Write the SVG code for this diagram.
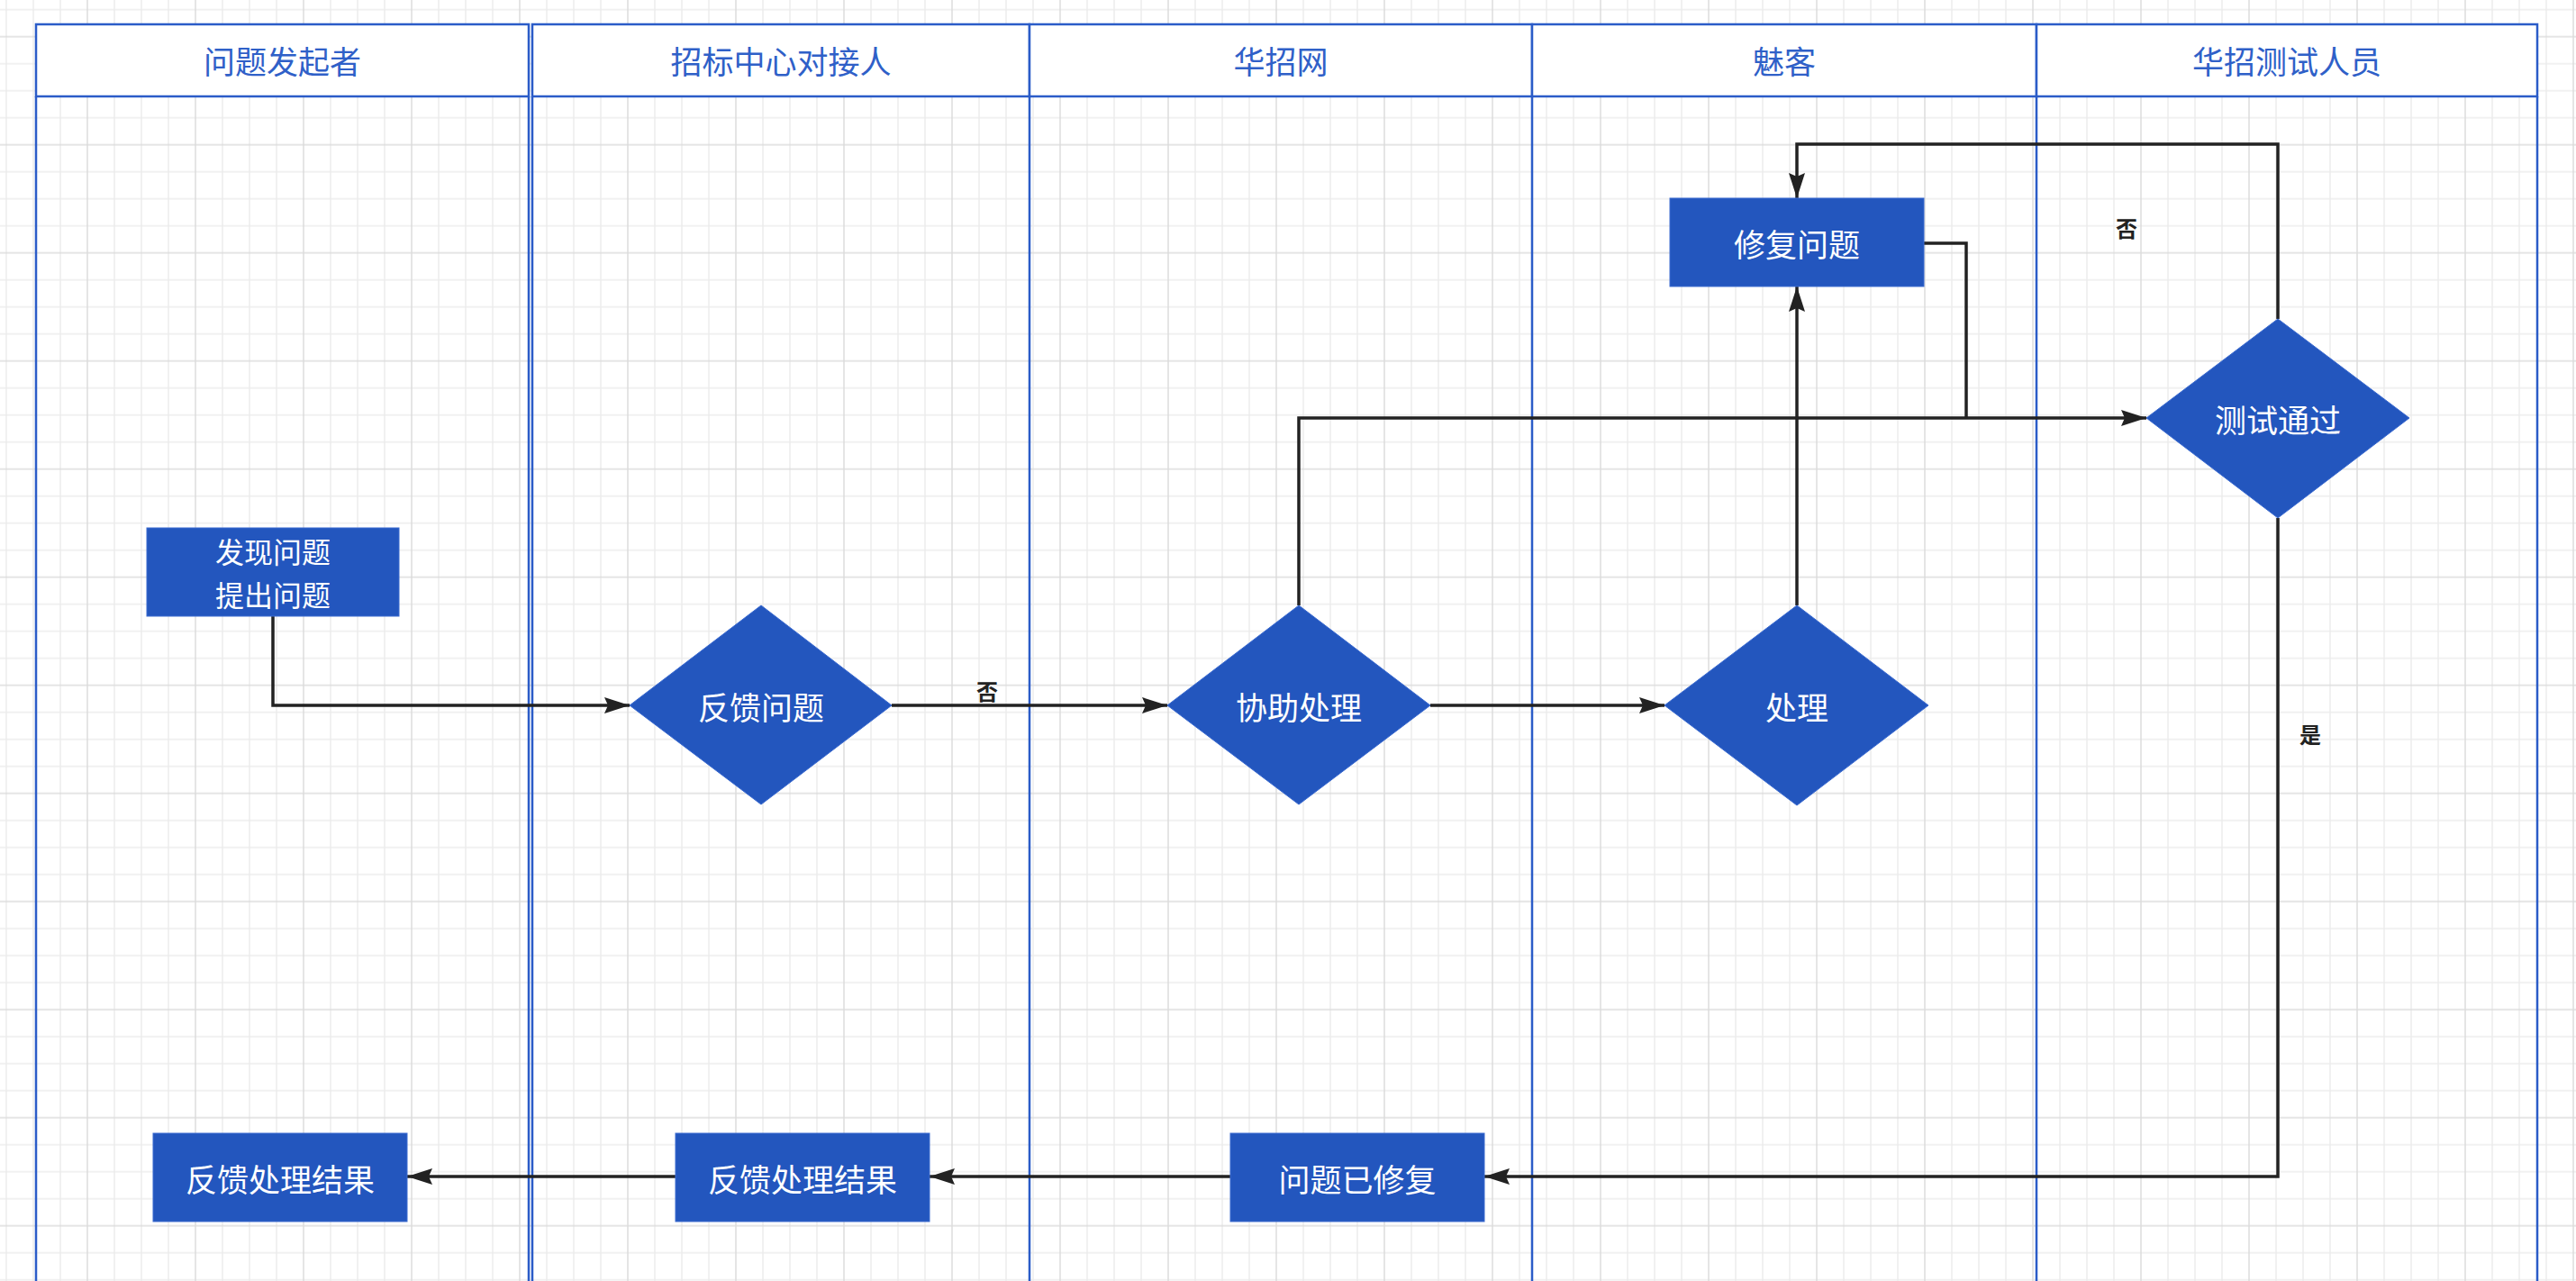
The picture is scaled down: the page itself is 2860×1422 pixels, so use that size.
<svg xmlns="http://www.w3.org/2000/svg" width="2860" height="1422" viewBox="0 0 2860 1422">
  <style>
    .lane { fill: none; stroke: #2b5cc8; stroke-width: 2.5; }
    .hdr { fill: #ffffff; stroke: #2b5cc8; stroke-width: 2.5; }
    .htxt { font-family: "Noto Sans CJK SC", "Noto Sans", sans-serif; font-size: 35px; fill: #2f60c8; text-anchor: middle; dominant-baseline: central; }
    .node { fill: #2356be; stroke: #3a6ad0; stroke-width: 1; }
    .ntxt { font-family: "Noto Sans CJK SC", "Noto Sans", sans-serif; font-size: 35px; fill: #ffffff; text-anchor: middle; dominant-baseline: central; }
    .ntxt2 { font-family: "Noto Sans CJK SC", "Noto Sans", sans-serif; font-size: 32px; fill: #ffffff; text-anchor: middle; dominant-baseline: central; }
    .conn { fill: none; stroke: #222222; stroke-width: 3.5; }
    .ltxt { font-family: "Noto Sans CJK SC", "Noto Sans", sans-serif; font-size: 24px; fill: #222222; text-anchor: middle; dominant-baseline: central; font-weight: bold; }
    .gmin { stroke: #ececec; stroke-width: 1.5; }
    .gmaj { stroke: #dcdcdc; stroke-width: 1.5; }
  </style>
  <defs>
    <pattern id="grid" patternUnits="userSpaceOnUse" x="-8" y="-4.3" width="120" height="120">
      <line class="gmin" x1="15" y1="0" x2="15" y2="120"/>
      <line class="gmin" x1="45" y1="0" x2="45" y2="120"/>
      <line class="gmin" x1="75" y1="0" x2="75" y2="120"/>
      <line class="gmin" x1="0" y1="15" x2="120" y2="15"/>
      <line class="gmin" x1="0" y1="75" x2="120" y2="75"/>
      <line class="gmin" x1="0" y1="105" x2="120" y2="105"/>
      <line class="gmaj" x1="105" y1="0" x2="105" y2="120"/>
      <line class="gmaj" x1="0" y1="45" x2="120" y2="45"/>
    </pattern>
    <marker id="arr" markerUnits="userSpaceOnUse" markerWidth="28" markerHeight="18" refX="28" refY="9" orient="auto">
      <path d="M0,0 L28,9 L0,18 L4,9 Z" fill="#222222"/>
    </marker>
  </defs>

  <rect x="0" y="0" width="2860" height="1422" fill="#ffffff"/>
  <rect x="0" y="0" width="2860" height="1422" fill="url(#grid)"/>

  <g id="pool-a">
    <rect class="hdr" x="40" y="27" width="547" height="80"/>
    <text class="htxt" x="313.5" y="66">问题发起者</text>
    <path class="lane" d="M40,107 V1430 M587,107 V1430"/>
  </g>

  <g id="pool-b">
    <rect class="hdr" x="591" y="27" width="552" height="80"/>
    <rect class="hdr" x="1143" y="27" width="558" height="80"/>
    <rect class="hdr" x="1701" y="27" width="560" height="80"/>
    <rect class="hdr" x="2261" y="27" width="556" height="80"/>
    <text class="htxt" x="867" y="66">招标中心对接人</text>
    <text class="htxt" x="1422" y="66">华招网</text>
    <text class="htxt" x="1981" y="66">魅客</text>
    <text class="htxt" x="2539" y="66">华招测试人员</text>
    <path class="lane" d="M591,107 V1430 M1143,107 V1430 M1701,107 V1430 M2261,107 V1430 M2817,107 V1430"/>
  </g>

  <g id="connectors">
    <path class="conn" marker-end="url(#arr)" d="M303,684 V783 H699"/>
    <path class="conn" marker-end="url(#arr)" d="M990,783 H1296"/>
    <path class="conn" marker-end="url(#arr)" d="M1588,783 H1848"/>
    <path class="conn" marker-end="url(#arr)" d="M1442,672 V464 H2383"/>
    <path class="conn" marker-end="url(#arr)" d="M1995,672 V318"/>
    <path class="conn" d="M2136,270 H2183 V464"/>
    <path class="conn" marker-end="url(#arr)" d="M2529,354 V160 H1995 V220"/>
    <path class="conn" marker-end="url(#arr)" d="M2529,575 V1306 H1648"/>
    <path class="conn" marker-end="url(#arr)" d="M1366,1306 H1032"/>
    <path class="conn" marker-end="url(#arr)" d="M750,1306 H452"/>
    <text class="ltxt" x="1096" y="766">否</text>
    <text class="ltxt" x="2361" y="252">否</text>
    <text class="ltxt" x="2565" y="814">是</text>
  </g>

  <g id="n-discover">
    <rect class="node" x="163" y="586" width="280" height="98"/>
    <text class="ntxt2" x="303" y="611">发现问题</text>
    <text class="ntxt2" x="303" y="659">提出问题</text>
  </g>
  <g id="n-feedback">
    <polygon class="node" points="845,672 990,783 845,893 699,783"/>
    <text class="ntxt" x="845" y="783">反馈问题</text>
  </g>
  <g id="n-assist">
    <polygon class="node" points="1442,672 1588,783 1442,893 1296,783"/>
    <text class="ntxt" x="1442" y="783">协助处理</text>
  </g>
  <g id="n-handle">
    <polygon class="node" points="1995,672 2141,783 1995,894 1848,783"/>
    <text class="ntxt" x="1995" y="783">处理</text>
  </g>
  <g id="n-fix">
    <rect class="node" x="1854" y="220" width="282" height="98"/>
    <text class="ntxt" x="1995" y="269">修复问题</text>
  </g>
  <g id="n-test">
    <polygon class="node" points="2529,354 2675,464 2529,575 2383,464"/>
    <text class="ntxt" x="2529" y="464">测试通过</text>
  </g>
  <g id="n-fixed">
    <rect class="node" x="1366" y="1258" width="282" height="98"/>
    <text class="ntxt" x="1507" y="1307">问题已修复</text>
  </g>
  <g id="n-result2">
    <rect class="node" x="750" y="1258" width="282" height="98"/>
    <text class="ntxt" x="891" y="1307">反馈处理结果</text>
  </g>
  <g id="n-result1">
    <rect class="node" x="170" y="1258" width="282" height="98"/>
    <text class="ntxt" x="311" y="1307">反馈处理结果</text>
  </g>
</svg>
